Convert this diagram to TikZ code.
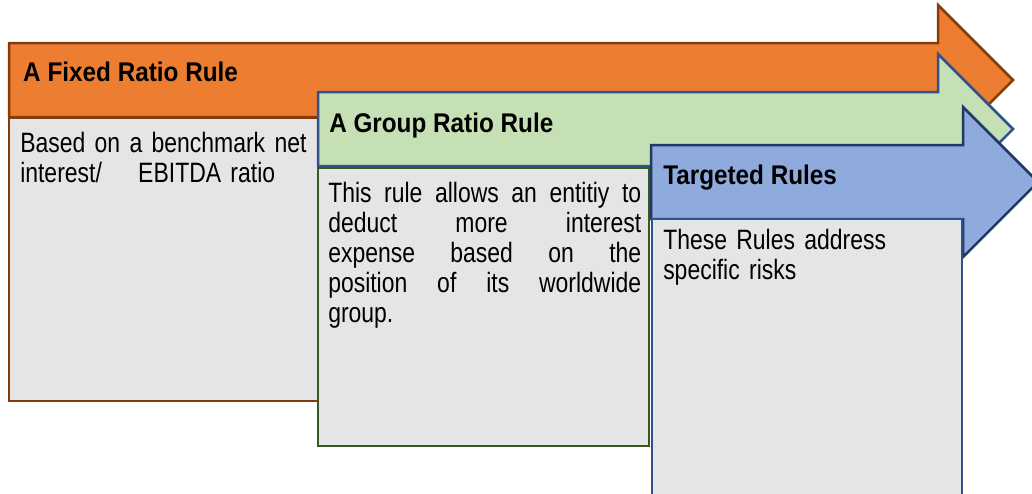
\documentclass[tikz,border=0pt]{standalone}
\usepackage{fontspec}
\setmainfont{Liberation Sans}[FakeStretch=0.9]
\newfontfamily\bodyfont{Liberation Sans}[FakeStretch=0.82]
\usepackage{tikz}
\definecolor{fixedfill}{HTML}{ED7D31}
\definecolor{fixedline}{HTML}{843C0C}
\definecolor{groupfill}{HTML}{C5E0B4}
\definecolor{groupline}{HTML}{2F528F}
\definecolor{groupbox}{HTML}{385723}
\definecolor{targetfill}{HTML}{8FAADC}
\definecolor{targetline}{HTML}{203864}
\definecolor{boxfill}{HTML}{E5E5E5}
% arrow: [style](left x, centre y)(head x)
\def\rulearrow[#1](#2,#3)(#4){\draw[#1] (#2,#3-37) -- (#4,#3-37) -- (#4,#3-75) -- (#4+75,#3) -- (#4,#3+75) -- (#4,#3+37) -- (#2,#3+37) -- cycle;}
% justified line, words split by \hfill
\def\jline#1{\makebox[313pt][l]{#1}}

\begin{document}
\begin{tikzpicture}[x=1pt,y=-1pt,line width=2.5pt,line join=miter,
  headtext/.style={anchor=base west,inner sep=0pt,font=\fontsize{27}{30}\selectfont\bfseries},
  bodytext/.style={anchor=base west,inner sep=0pt,align=left,font=\bodyfont\fontsize{28}{30}\selectfont}]
		%%%%% START %%%%%
		\useasboundingbox (0,0) rectangle (1032,493);
		\clip (0,0) rectangle (1032,493);
		
		% fixed ratio
		\rulearrow[fill=fixedfill, draw=fixedline](9,80)(938);
		\draw[fill=boxfill, draw=fixedline] (9,118) rectangle (330,401);
		\node[headtext] (fixedhead) at (22,81) {A Fixed Ratio Rule};
		\node[bodytext, text width=300pt] (fixedtext) at (19,152)
			{Based on a benchmark net\\ interest/\hspace*{27pt} EBITDA ratio};
		
		% group ratio
		\rulearrow[fill=groupfill, draw=groupline](318,129)(938);
		\draw[fill=boxfill, draw=groupbox] (318,168) rectangle (649,446);
		\node[headtext] (grouphead) at (328,132) {A Group Ratio Rule};
		\node[bodytext, text width=313pt] (grouptext) at (327,202)
			{\jline{This\hfill rule\hfill allows\hfill an\hfill entitiy\hfill to}\\
			 \jline{deduct\hfill more\hfill interest}\\
			 \jline{expense\hfill based\hfill on\hfill the}\\
			 \jline{position\hfill of\hfill its\hfill worldwide}\\
			 group.};
		
		% targeted
		\rulearrow[fill=targetfill, draw=targetline](651,182)(963);
		\draw[fill=boxfill, draw=groupline] (652,219) rectangle (962,510);
		\node[headtext] (targethead) at (662,184) {Targeted Rules};
		\node[bodytext, text width=290pt] (targettext) at (662,249)
			{These Rules address\\ specific risks};
		
		%%%%% END %%%%%
\end{tikzpicture}
\end{document}
